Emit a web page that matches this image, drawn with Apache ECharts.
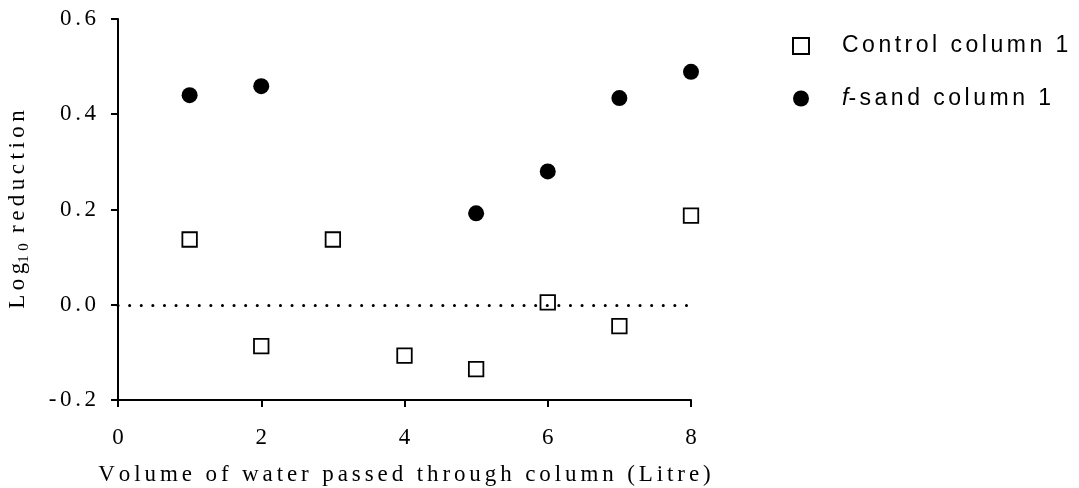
<!DOCTYPE html>
<html>
<head>
<meta charset="utf-8">
<script src="https://cdn.jsdelivr.net/npm/echarts@6/dist/echarts.min.js"></script>
<style>
  html, body { margin: 0; padding: 0; background: #ffffff; }
  #chart { width: 1079px; height: 488px; }
</style>
</head>
<body>
<div id="chart"></div>
<script>
// Volume of water passed (Litre) and log10 reduction per column
const controlVolumes = [1, 2, 3, 4, 5, 6, 7, 8];
const controlColumn1 = [0.137, -0.087, 0.137, -0.107, -0.135, 0.005, -0.045, 0.187];
const fsandVolumes = [1, 2, 5, 6, 7, 8];
const fsandColumn1 = [0.440, 0.459, 0.192, 0.280, 0.434, 0.489];

const xTickValues = [0, 2, 4, 6, 8];
const yTickValues = [-0.2, 0.0, 0.2, 0.4, 0.6];
const seriesNames = ['Control column 1', 'f-sand column 1'];

// Font stacks; the trailing fallback name tells the tracking table which text is which
const FONT_TICK = "'Liberation Serif', 'Times New Roman', serif";
const FONT_XNAME = "'Liberation Serif', 'Nimbus Roman', serif";
const FONT_YNAME = "'Liberation Serif', 'Tinos', serif";
const FONT_LEGEND = "'Liberation Sans', Arial, sans-serif";

// Extra letter spacing (px) for each text group
const TRACKING = [
  ['Times New Roman', 3.6],
  ['Nimbus Roman', 3.9],
  ['Tinos', 4.5],
  ['Arial', 3.5]
];

// Canvas text gets no letter-spacing option, so widen measured text and draw it glyph by glyph
(function () {
  const P = CanvasRenderingContext2D.prototype;
  const measure = P.measureText;
  const fill = P.fillText;
  const stroke = P.strokeText;
  function trackOf(ctx) {
    const f = ctx.font || '';
    for (const [key, px] of TRACKING) if (f.indexOf(key) >= 0) return px;
    return 0;
  }
  P.measureText = function (text) {
    const m = measure.call(this, text);
    const t = trackOf(this);
    if (!t || !text) return m;
    const n = Array.from(String(text)).length;
    const out = {};
    for (const k in m) { if (typeof m[k] === 'number') out[k] = m[k]; }
    out.width = m.width + (n - 1) * t;
    if (typeof out.actualBoundingBoxRight === 'number') out.actualBoundingBoxRight += (n - 1) * t;
    return out;
  };
  function spaced(orig) {
    return function (text, x, y, maxWidth) {
      const t = trackOf(this);
      if (!t || !text) return orig.apply(this, arguments);
      const chars = Array.from(String(text));
      const widths = chars.map(c => measure.call(this, c).width);
      const total = widths.reduce((a, b) => a + b, 0) + (chars.length - 1) * t;
      const align = this.textAlign;
      let cx = x;
      if (align === 'center') cx = x - total / 2;
      else if (align === 'right' || align === 'end') cx = x - total;
      this.textAlign = 'left';
      chars.forEach((c, i) => { orig.call(this, c, cx, y); cx += widths[i] + t; });
      this.textAlign = align;
    };
  }
  P.fillText = spaced(fill);
  P.strokeText = spaced(stroke);
})();

const chart = echarts.init(document.getElementById('chart'), null, { renderer: 'canvas' });

const axisLineStyle = { color: '#000', width: 2 };

const option = {
  animation: false,
  backgroundColor: '#ffffff',
  grid: { left: 118, right: 388, top: 19, bottom: 88, containLabel: false, outerBoundsMode: 'none' },
  legend: {
    orient: 'vertical',
    left: 792,
    top: 33,
    padding: 0,
    itemWidth: 16,
    itemHeight: 16,
    itemGap: 26.5,
    selectedMode: false,
    data: seriesNames,
    formatter: name => name.startsWith('f-') ? '{it|f}' + name.slice(1) : name,
    textStyle: {
      fontFamily: FONT_LEGEND,
      fontSize: 23,
      lineHeight: 26,
      color: '#000',
      padding: [0, 0, 0, 28],
      rich: {
        it: { fontFamily: FONT_LEGEND, fontSize: 23, lineHeight: 26, fontStyle: 'italic', color: '#000' }
      }
    }
  },
  xAxis: {
    type: 'value',
    min: xTickValues[0],
    max: xTickValues[xTickValues.length - 1],
    interval: xTickValues[1] - xTickValues[0],
    name: 'Volume of water passed through column (Litre)',
    nameLocation: 'middle',
    nameGap: 63,
    nameTextStyle: { fontFamily: FONT_XNAME, fontSize: 23, color: '#000' },
    axisLine: { show: true, onZero: false, lineStyle: axisLineStyle },
    axisTick: { show: true, length: 7, lineStyle: axisLineStyle },
    axisLabel: { fontFamily: FONT_TICK, fontSize: 23, color: '#000', margin: 26 },
    splitLine: { show: false }
  },
  yAxis: {
    type: 'value',
    min: yTickValues[0],
    max: yTickValues[yTickValues.length - 1],
    interval: 0.2,
    name: '{m|Log}{s|10}{m| reduction}',
    nameLocation: 'middle',
    nameGap: 86,
    nameTextStyle: {
      fontFamily: FONT_YNAME,
      color: '#000',
      rich: {
        m: { fontFamily: FONT_YNAME, fontSize: 23, color: '#000', lineHeight: 28 },
        s: { fontFamily: FONT_YNAME, fontSize: 15, color: '#000', lineHeight: 15, verticalAlign: 'bottom' }
      }
    },
    axisLine: { show: true, onZero: false, lineStyle: axisLineStyle },
    axisTick: { show: true, length: 7, lineStyle: axisLineStyle },
    axisLabel: {
      fontFamily: FONT_TICK, fontSize: 23, color: '#000', margin: 22,
      formatter: v => v.toFixed(1)
    },
    splitLine: { show: false }
  },
  series: [
    {
      name: seriesNames[0],
      type: 'scatter',
      symbol: 'rect',
      symbolSize: 14.5,
      itemStyle: { color: '#ffffff', borderColor: '#000', borderWidth: 1.8, opacity: 1 },
      data: controlVolumes.map((v, i) => [v, controlColumn1[i]]),
      z: 3,
      markLine: {
        silent: true,
        symbol: ['none', 'none'],
        label: { show: false },
        lineStyle: { color: '#000', width: 3, type: [0.1, 11.5], cap: 'round' },
        data: [[{ coord: [xTickValues[0], 0] }, { coord: [xTickValues[xTickValues.length - 1], 0] }]]
      }
    },
    {
      name: seriesNames[1],
      type: 'scatter',
      symbol: 'circle',
      symbolSize: 16,
      itemStyle: { color: '#000', opacity: 1 },
      data: fsandVolumes.map((v, i) => [v, fsandColumn1[i]]),
      z: 4
    }
  ]
};

chart.setOption(option);
</script>
</body>
</html>
